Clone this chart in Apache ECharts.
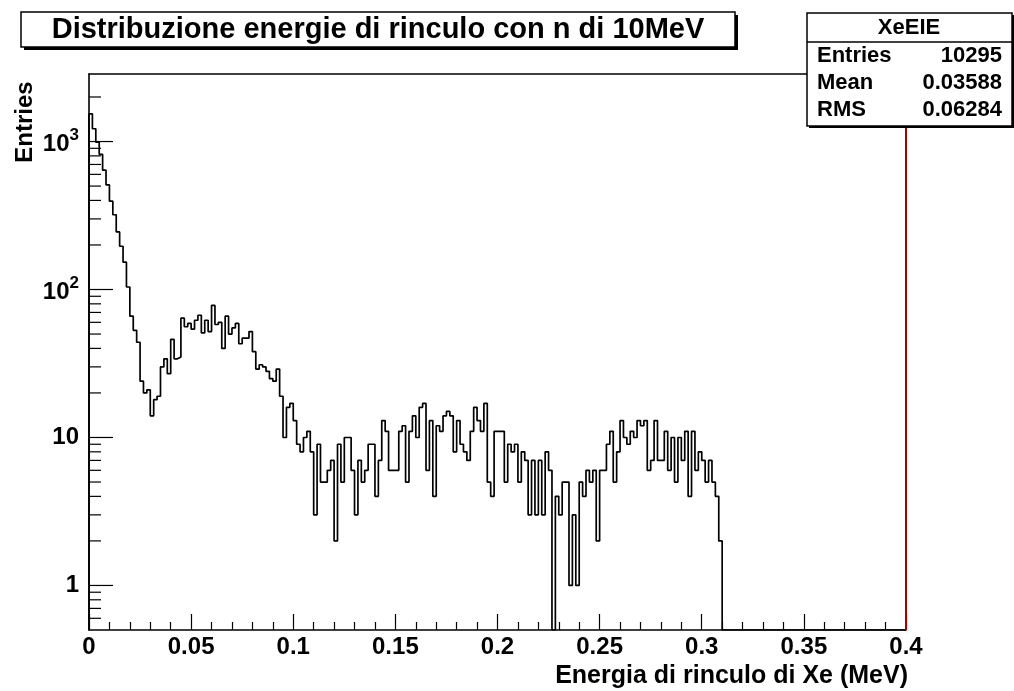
<!DOCTYPE html>
<html>
<head>
<meta charset="utf-8">
<script src="https://cdn.jsdelivr.net/npm/echarts@6/dist/echarts.min.js"></script>
<style>
  html, body { margin: 0; padding: 0; background: #fff; }
  #chart { width: 1014px; height: 691px; }
</style>
</head>
<body>
<div id="chart"></div>
<script>
// Histogram XeEIE: 240 bins over [0, 0.4] MeV, filled bins up to 0.31 MeV
const binWidth = 0.4 / 240;
const counts = [
  1540, 1220, 990, 820, 640, 510, 395, 320, 245, 196, 153, 104, 66, 53, 44, 24, 20, 21, 14, 18,
  19, 30, 34, 27, 46, 34, 35, 64, 56, 59, 54, 62, 67, 51, 62, 52, 78, 58, 60, 40, 66, 50, 55,
  59, 43, 47, 47, 52, 38, 29, 31, 30, 28, 25, 24, 29, 19, 10, 16, 17, 13, 9, 8, 10, 11, 8,
  3, 9, 5, 5, 6, 7, 2, 9, 5, 10, 10, 6, 3, 7, 5, 6, 9, 9, 4, 7,
  13, 11, 6, 6, 6, 11, 12, 5, 11, 14, 10, 16, 17, 6, 13, 4, 12, 11, 14, 15, 14, 8, 13, 9,
  8, 7, 11, 16, 13, 11, 17, 5, 4, 11, 11, 11, 5, 9, 8, 9, 5, 8, 7, 3, 7, 3,
  7, 3, 8, 6, 0, 4, 3, 5, 5, 1, 3, 1, 5, 4, 6, 5, 6, 2, 6, 6,
  9, 11, 5, 8, 13, 10, 9, 11, 10, 13, 12, 13, 6, 7, 13, 7, 7, 11, 6, 10, 5, 10, 7, 11, 4, 11, 6, 8, 7, 5, 7, 5, 4, 2
];

const xMin = 0, xMax = 0.4, xStep = 0.05;
const yMin = 0.5, yMax = 2860;
const yMajorTicks = [1, 10, 100, 1000];
const yMinorTicks = [0.6, 0.7, 0.8, 0.9,
  2, 3, 4, 5, 6, 7, 8, 9,
  20, 30, 40, 50, 60, 70, 80, 90,
  200, 300, 400, 500, 600, 700, 800, 900,
  2000];

const titleText = 'Distribuzione energie di rinculo con n di 10MeV';
const xTitle = 'Energia di rinculo di Xe (MeV)';
const yTitle = 'Entries';
const statsName = 'XeEIE';
const statsRows = [['Entries', '10295'], ['Mean', '0.03588'], ['RMS', '0.06284']];
const markerLineAt = 0.4;

const FONT = '"Liberation Sans", Arial, Helvetica, sans-serif';

// Step outline: empty bins fall to the bottom of the frame
const outline = [[0, yMin]];
counts.forEach((c, i) => outline.push([i * binWidth, c > 0 ? c : yMin]));
outline.push([counts.length * binWidth, yMin]);
outline.push([xMax, yMin]);

const tickData = yMajorTicks.concat(yMinorTicks).map(v => [0, v]);

function yLabel(v) {
  const e = Math.log10(v);
  const r = Math.round(e);
  if (Math.abs(e - r) > 1e-6) return '';
  if (r === 0) return '{b|1}';
  if (r === 1) return '{b|10}';
  return '{b|10}{s|' + r + '}';
}

const chart = echarts.init(document.getElementById('chart'), null, { renderer: 'canvas' });

const option = {
  animation: false,
  backgroundColor: '#ffffff',
  grid: { left: 89, right: 108, top: 74, bottom: 61, containLabel: false, outerBoundsMode: 'none' },
  xAxis: [{
    type: 'value', min: xMin, max: xMax, interval: xStep,
    axisLine: { show: true, lineStyle: { color: '#000', width: 1.6 } },
    axisTick: { show: true, inside: true, length: 16, lineStyle: { color: '#000', width: 1.2 } },
    minorTick: { show: true, splitNumber: 5, length: 8, lineStyle: { color: '#000', width: 1.2 } },
    splitLine: { show: false }, minorSplitLine: { show: false },
    axisLabel: { show: true, margin: 5, color: '#000', fontSize: 24, fontWeight: 'bold', fontFamily: FONT,
      formatter: v => String(+v.toFixed(3)) }
  }, {
    type: 'value', position: 'top', min: xMin, max: xMax,
    axisLine: { show: true, lineStyle: { color: '#000', width: 1.5 } },
    axisTick: { show: false }, axisLabel: { show: false }, splitLine: { show: false }
  }],
  yAxis: {
    type: 'log', logBase: 10, min: yMin, max: yMax,
    axisLine: { show: true, lineStyle: { color: '#000', width: 1.6 } },
    axisTick: { show: false }, minorTick: { show: false },
    splitLine: { show: false }, minorSplitLine: { show: false },
    axisLabel: {
      show: true, margin: 10, color: '#000', formatter: yLabel,
      rich: {
        b: { fontSize: 24, fontWeight: 'bold', fontFamily: FONT, color: '#000', verticalAlign: 'bottom' },
        s: { fontSize: 17, fontWeight: 'bold', fontFamily: FONT, color: '#000', verticalAlign: 'bottom', padding: [0, 0, 12, 0] }
      }
    }
  },
  series: [{
    type: 'line', data: outline, step: 'end', symbol: 'none', clip: true,
    lineStyle: { color: '#000', width: 1.7 },
    markLine: {
      silent: true, symbol: 'none', label: { show: false },
      lineStyle: { color: '#a80000', width: 2, type: 'solid' },
      data: [{ xAxis: markerLineAt }]
    }
  }, {
    type: 'custom', data: tickData, encode: { x: 0, y: 1 }, clip: false,
    renderItem: (params, api) => {
      const v = api.value(1);
      const p = api.coord([0, v]);
      const len = yMajorTicks.includes(v) ? 24 : 12;
      return { type: 'line', shape: { x1: p[0], y1: p[1], x2: p[0] + len, y2: p[1] },
               style: { stroke: '#000', lineWidth: 1.2 } };
    }
  }],
  graphic: [
    // title pave with shadow
    { type: 'rect', z: 100, shape: { x: 24, y: 15, width: 714, height: 35 }, style: { fill: '#000' } },
    { type: 'rect', z: 101, shape: { x: 21, y: 12, width: 714, height: 35 }, style: { fill: '#fff', stroke: '#000', lineWidth: 1.5 } },
    { type: 'text', z: 102, style: { text: titleText, x: 378, y: 30, align: 'center', verticalAlign: 'middle',
      font: 'bold 29px ' + FONT, fill: '#000' } },
    // axis titles
    { type: 'text', z: 102, style: { text: xTitle, x: 908, y: 676, align: 'right', verticalAlign: 'middle',
      font: 'bold 25px ' + FONT, fill: '#000' } },
    { type: 'text', z: 102, rotation: Math.PI / 2, x: 25, y: 122,
      style: { text: yTitle, x: 0, y: 0, align: 'center', verticalAlign: 'middle', font: 'bold 24px ' + FONT, fill: '#000' } },
    // statistics box
    { type: 'rect', z: 100, shape: { x: 809, y: 15, width: 205, height: 113 }, style: { fill: '#000' } },
    { type: 'rect', z: 101, shape: { x: 807, y: 13, width: 205, height: 113 }, style: { fill: '#fff', stroke: '#000', lineWidth: 1.5 } },
    { type: 'line', z: 102, shape: { x1: 807, y1: 42, x2: 1012, y2: 42 }, style: { stroke: '#000', lineWidth: 1.5 } },
    { type: 'text', z: 102, style: { text: statsName, x: 909, y: 28, align: 'center', verticalAlign: 'middle',
      font: 'bold 22px ' + FONT, fill: '#000' } }
  ].concat(statsRows.flatMap((row, i) => [
    { type: 'text', z: 102, style: { text: row[0], x: 817, y: 56 + i * 27, align: 'left', verticalAlign: 'middle',
      font: 'bold 22px ' + FONT, fill: '#000' } },
    { type: 'text', z: 102, style: { text: row[1], x: 1002, y: 56 + i * 27, align: 'right', verticalAlign: 'middle',
      font: 'bold 22px ' + FONT, fill: '#000' } }
  ]))
};

chart.setOption(option);
</script>
</body>
</html>
